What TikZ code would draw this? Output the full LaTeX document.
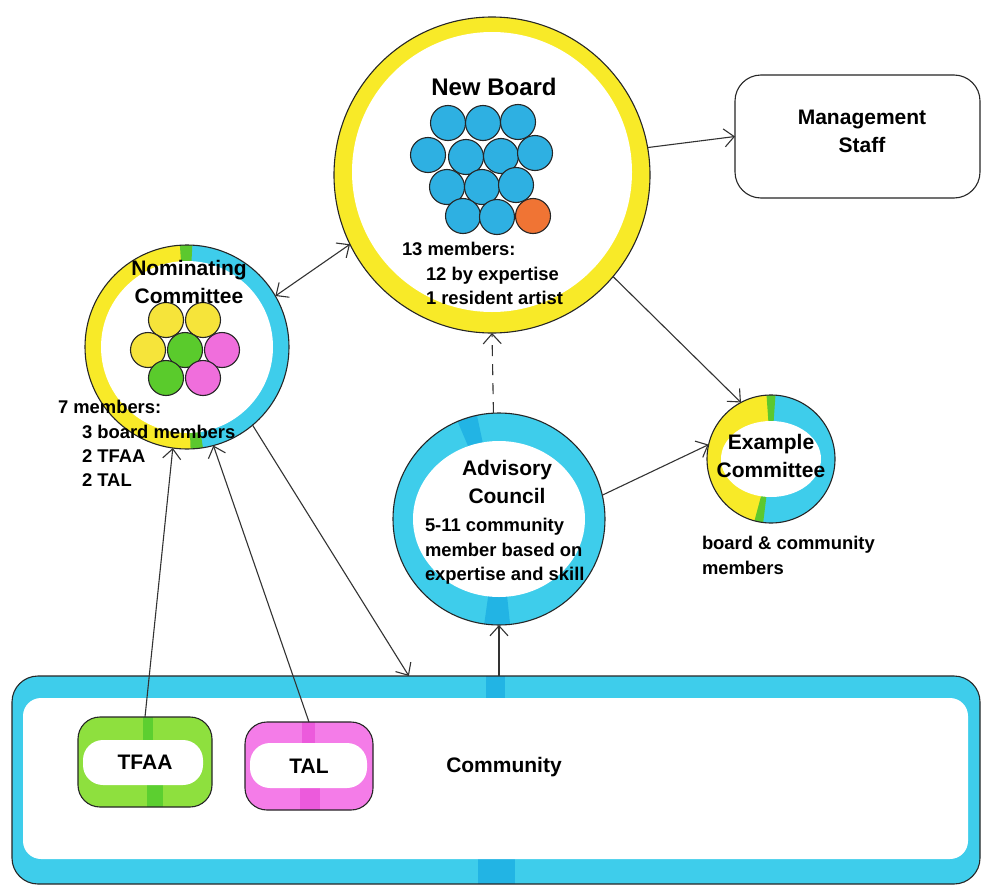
\documentclass[tikz,border=0pt]{standalone}
\usepackage{fontspec}
\setmainfont{Liberation Sans}
\usetikzlibrary{arrows.meta,backgrounds,calc}
\definecolor{ringY}{HTML}{F8EA28}
\definecolor{ringC}{HTML}{3ECDEB}
\definecolor{darkC}{HTML}{22B4E4}
\definecolor{markG}{HTML}{5CC82E}
\definecolor{dotB}{HTML}{2EB0E2}
\definecolor{dotO}{HTML}{F07434}
\definecolor{dotY}{HTML}{F6E43A}
\definecolor{dotG}{HTML}{5ACB2C}
\definecolor{dotP}{HTML}{F06EDC}
\definecolor{tfaaG}{HTML}{8EE03E}
\definecolor{tfaaD}{HTML}{5CCF30}
\definecolor{talP}{HTML}{F47CE8}
\definecolor{talD}{HTML}{EC5ADC}
\newcommand{\fBig}{\fontsize{24}{28}\selectfont\bfseries}
\newcommand{\fTitle}{\fontsize{21}{27.5}\selectfont\bfseries}
\newcommand{\fDetail}{\fontsize{18.4}{24.4}\selectfont\bfseries}
\newcommand{\pieseg}[5]{\fill[#5] (#1) -- ++({-(#3)}:#2) arc[start angle={-(#3)}, end angle={-(#4)}, radius=#2] -- cycle;}
\begin{document}
\begin{tikzpicture}[x=1pt,y=-1pt,
  ringnode/.style={circle, inner sep=0pt, outer sep=0pt, draw=none},
  boxnode/.style={rectangle, inner sep=0pt, outer sep=0pt},
  txt/.style={inner sep=0pt, outer sep=0pt, text=black},
  outline/.style={draw=black!85, line width=1.1pt},
  dotstyle/.style={draw=black!85, line width=1.1pt},
  arr/.style={draw=black!80, line width=1.1pt, -{Straight Barb[length=10pt,width=18pt]}},
  darr/.style={draw=black!80, line width=1.1pt, {Straight Barb[length=10pt,width=18pt]}-{Straight Barb[length=10pt,width=18pt]}},
  dashline/.style={dash pattern=on 11pt off 8pt}]
\useasboundingbox (0,0) rectangle (983,886);

% shape nodes
\node[ringnode, minimum size=316pt] (nb) at (492,175) {};
\node[ringnode, minimum size=204pt] (nom) at (187,347) {};
\node[ringnode, minimum size=212pt] (adv) at (499,519) {};
\node[ringnode, minimum size=128pt] (ex) at (771,459) {};
\node[boxnode, rounded corners=26pt, outline, minimum width=245pt, minimum height=123pt] (mgmt) at (857.5,136.5) {};
\node[boxnode, minimum width=968pt, minimum height=208pt] (community) at (496,780) {};
\node[boxnode, font=\fTitle, minimum width=134pt, minimum height=90pt] (tfaa) at (145,762) {TFAA};
\node[boxnode, font=\fTitle, minimum width=128pt, minimum height=88pt] (tal) at (309,766) {TAL};

% decorations on the background layer
\begin{scope}[on background layer]
\fill[white] (0,0) rectangle (983,886);
% community box
\fill[ringC, rounded corners=26pt] (community.north west) rectangle (community.south east);
\fill[darkC] (486,676) rectangle (505,699);
\fill[darkC] (478,857) rectangle (515,884);
\fill[white, rounded corners=18pt] ([shift={(11,22)}]community.north west) rectangle ([shift={(-12,-25)}]community.south east);
\draw[outline, rounded corners=26pt] (community.north west) rectangle (community.south east);
% TFAA
\fill[tfaaG, rounded corners=22pt] (tfaa.north west) rectangle (tfaa.south east);
\fill[tfaaD] (143,717) rectangle (153,741);
\fill[tfaaD] (147,784) rectangle (163,807);
\fill[white, rounded corners=20pt] ([shift={(5,23)}]tfaa.north west) rectangle ([shift={(-9,-22)}]tfaa.south east);
\draw[outline, rounded corners=22pt] (tfaa.north west) rectangle (tfaa.south east);
% TAL
\fill[talP, rounded corners=22pt] (tal.north west) rectangle (tal.south east);
\fill[talD] (302,722) rectangle (315,744);
\fill[talD] (300,787) rectangle (320,810);
\fill[white, rounded corners=20pt] ([shift={(5,21)}]tal.north west) rectangle ([shift={(-6,-22)}]tal.south east);
\draw[outline, rounded corners=22pt] (tal.north west) rectangle (tal.south east);
% New Board ring
\fill[ringY] (nb.center) circle[radius=158];
\fill[white] ([yshift=3pt]nb.center) circle[radius=140];
\draw[outline] (nb.center) circle[radius=158];
% Nominating ring
\fill[ringC] (nom.center) circle[radius=102];
\pieseg{nom.center}{102}{90}{278}{ringY}
\pieseg{nom.center}{102}{87}{94}{markG}
\pieseg{nom.center}{102}{272}{279}{markG}
\fill[white] (nom.center) circle[radius=86];
\draw[outline] (nom.center) circle[radius=102];
% Advisory ring
\fill[ringC] (adv.center) circle[radius=106];
\pieseg{adv.center}{106}{102}{113}{darkC}
\pieseg{adv.center}{106}{262}{276}{darkC}
\fill[white] (adv.center) circle[x radius=86, y radius=78];
\draw[outline] (adv.center) circle[radius=106];
% Example ring
\fill[ringC] (ex.center) circle[radius=64];
\pieseg{ex.center}{64}{90}{260}{ringY}
\pieseg{ex.center}{64}{86}{94}{markG}
\pieseg{ex.center}{64}{255}{263}{markG}
\fill[white] (ex.center) circle[x radius=50, y radius=38];
\draw[outline] (ex.center) circle[radius=64];
\end{scope}

% member dots
\foreach \x/\y in {448/123,483/123,518/122,428/155,466/157,501/156,535/153,447/187,482/187,516/185,463/216,497/217}
  \filldraw[dotstyle, fill=dotB] (\x,\y) circle[radius=17.5];
\filldraw[dotstyle, fill=dotO] (533,216) circle[radius=17.5];
\foreach \x/\y/\c in {166/320/dotY,203/320/dotY,148/350/dotY,185/350/dotG,222/350/dotP,166/378/dotG,203/378/dotP}
  \filldraw[dotstyle, fill=\c] (\x,\y) circle[radius=17.5];

% texts
\node[txt, font=\fBig, anchor=base] (nbT) at (494,95.6) {New Board};
\node[txt, font=\fDetail, anchor=north west, align=left] (nbD) at (402,242.4) {13 members:\\\hspace*{24pt}12 by expertise\\\hspace*{24pt}1 resident artist};
\node[txt, font=\fTitle, anchor=north, align=center] (nomT) at (189,260.4) {Nominating\\Committee};
\node[txt, font=\fDetail, anchor=north west, align=left] (nomD) at (58,400.4) {7 members:\\\hspace*{24pt}3 board members\\\hspace*{24pt}2 TFAA\\\hspace*{24pt}2 TAL};
\node[txt, font=\fTitle, anchor=north, align=center] (advT) at (507,460.4) {Advisory\\Council};
\node[txt, font=\fDetail, anchor=north west, align=left] (advD) at (425,518.4) {5-11 community\\member based on\\expertise and skill};
\node[txt, font=\fTitle, anchor=north, align=center] (exT) at (771,434.4) {Example\\Committee};
\node[txt, font=\fDetail, anchor=north west, align=left] (exD) at (702,536.4) {board \& community\\members};
\node[txt, font=\fTitle, anchor=north, align=center] (mgmtT) at (862,110.4) {Management\\Staff};
\node[txt, font=\fTitle, anchor=base] (commT) at (504,772.6) {Community};

% connectors
\draw[darr] (nom.30) -- (nb.206);
\draw[arr] (nb.10) -- (mgmt.west);
\draw[arr] (nb.-40) -- (ex.118);
\draw[arr] (adv.13) -- (ex.167);
\draw[arr, dashline] (adv.93) -- (nb.-90);
\draw[arr] (adv.south |- community.north) -- (adv.south);
\draw[arr] (nom.-50) -- ($(community.north west)!0.41!(community.north east)$);
\draw[arr] (tfaa.north) -- (nom.-98);
\draw[arr] (tal.north) -- (nom.-75);
\end{tikzpicture}
\end{document}
